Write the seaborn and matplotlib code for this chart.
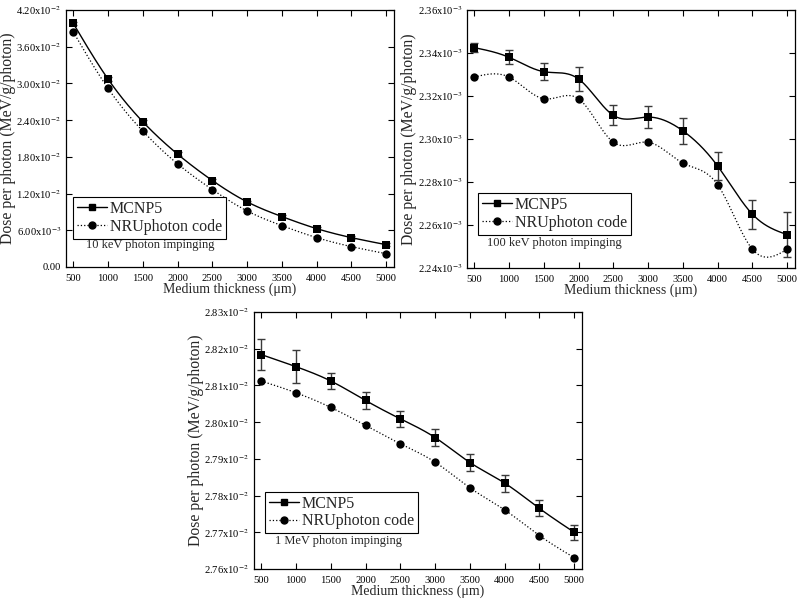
import numpy as np
import pandas as pd
import seaborn as sns
import matplotlib.pyplot as plt
from matplotlib.lines import Line2D
from matplotlib.ticker import FuncFormatter, MultipleLocator

# medium thickness (um)
thickness = [500, 1000, 1500, 2000, 2500, 3000, 3500, 4000, 4500, 5000]

# 10 keV
mcnp_10kev = [0.0398, 0.0307, 0.02373, 0.01844, 0.01413, 0.01064, 0.00824, 0.00627, 0.0048, 0.00365]
mcnp_10kev_err = [0.0003, 0.0003, 0.0003, 0.0003, 0.0002, 0.0002, 0.0002, 0.0002, 0.0002, 0.0002]
nru_10kev = [0.0384, 0.02918, 0.0222, 0.01685, 0.01265, 0.00916, 0.00676, 0.0048, 0.00333, 0.00218]

# 100 keV
mcnp_100kev = [2.3425e-3, 2.3380e-3, 2.3313e-3, 2.3279e-3, 2.3110e-3, 2.3102e-3, 2.3038e-3,
               2.2874e-3, 2.2650e-3, 2.2555e-3]
mcnp_100kev_err = [0.0021e-3, 0.0033e-3, 0.0039e-3, 0.0055e-3, 0.0046e-3, 0.0053e-3, 0.0060e-3,
                   0.0065e-3, 0.0068e-3, 0.0105e-3]
nru_100kev = [2.3288e-3, 2.3288e-3, 2.3187e-3, 2.3187e-3, 2.2985e-3, 2.2985e-3, 2.2888e-3,
              2.2787e-3, 2.2487e-3, 2.2487e-3]

# 1 MeV
mcnp_1mev = [2.8184e-2, 2.8151e-2, 2.8112e-2, 2.8059e-2, 2.8009e-2, 2.7958e-2, 2.7890e-2,
             2.7834e-2, 2.7765e-2, 2.7700e-2]
mcnp_1mev_err = [0.0043e-2, 0.0045e-2, 0.0022e-2, 0.0022e-2, 0.0022e-2, 0.0023e-2, 0.0023e-2,
                 0.0023e-2, 0.0022e-2, 0.0021e-2]
nru_1mev = [2.8112e-2, 2.8080e-2, 2.8040e-2, 2.7991e-2, 2.7941e-2, 2.7891e-2, 2.7821e-2,
            2.7761e-2, 2.7691e-2, 2.7631e-2]

sns.set_theme(style="ticks")
plt.rcParams['font.family'] = ['Liberation Serif', 'DejaVu Serif']
plt.rcParams['mathtext.fontset'] = 'stix'
plt.rcParams['xtick.direction'] = 'in'
plt.rcParams['ytick.direction'] = 'in'


def natural_spline(x, y, num=300):
    """Smooth connecting line through the data points (natural cubic spline)."""
    x = np.asarray(x, float)
    y = np.asarray(y, float)
    n = len(x)
    h = np.diff(x)
    A = np.zeros((n, n))
    b = np.zeros(n)
    A[0, 0] = A[-1, -1] = 1
    for i in range(1, n - 1):
        A[i, i - 1] = h[i - 1]
        A[i, i] = 2 * (h[i - 1] + h[i])
        A[i, i + 1] = h[i]
        b[i] = 6 * ((y[i + 1] - y[i]) / h[i] - (y[i] - y[i - 1]) / h[i - 1])
    M = np.linalg.solve(A, b)
    xs = np.linspace(x[0], x[-1], num)
    idx = np.clip(np.searchsorted(x, xs) - 1, 0, n - 2)
    x0, x1 = x[idx], x[idx + 1]
    hh = x1 - x0
    t0 = x1 - xs
    t1 = xs - x0
    ys = ((M[idx] * t0 ** 3 + M[idx + 1] * t1 ** 3) / (6 * hh)
          + (y[idx] / hh - M[idx] * hh / 6) * t0
          + (y[idx + 1] / hh - M[idx + 1] * hh / 6) * t1)
    return xs, ys


def sci_label(v, pos):
    if abs(v) < 1e-12:
        return '0.00'
    e = int(np.floor(np.log10(abs(v)) + 1e-9))
    m = v / 10 ** e
    return f'{m:.2f}x10$^{{{e}}}$'


def draw_panel(ax, mcnp, err, nru, ylim, ystep, note, leg_anchor, note_xy):
    xs, ys = natural_spline(thickness, mcnp)
    sns.lineplot(x=xs, y=ys, ax=ax, color='black', lw=1.0, estimator=None, sort=False)
    xs, ys = natural_spline(thickness, nru)
    sns.lineplot(x=xs, y=ys, ax=ax, color='black', lw=0.9, ls=':', estimator=None, sort=False)

    ax.errorbar(thickness, mcnp, yerr=err, fmt='none', ecolor='#3a3a3a', elinewidth=1.0,
                capsize=3, capthick=1.0, zorder=3)
    df = pd.DataFrame({'x': thickness, 'mcnp': mcnp, 'nru': nru})
    sns.scatterplot(data=df, x='x', y='mcnp', ax=ax, marker='s', s=36, color='black',
                    edgecolor='black', linewidth=0, zorder=4)
    sns.scatterplot(data=df, x='x', y='nru', ax=ax, marker='o', s=36, color='black',
                    edgecolor='black', linewidth=0, zorder=4)

    ax.set_xlim(395, 5112)
    ax.set_ylim(*ylim)
    ax.set_xticks(thickness)
    ax.yaxis.set_major_locator(MultipleLocator(ystep))
    ax.yaxis.set_major_formatter(FuncFormatter(sci_label))
    ax.tick_params(axis='both', which='major', labelsize=7.6, length=4, width=0.8,
                   top=True, right=True, colors='black')
    ax.tick_params(axis='x', pad=5)
    ax.tick_params(axis='y', pad=3.5)
    for s in ax.spines.values():
        s.set_color('black')
        s.set_linewidth(0.9)

    ax.set_xlabel('Medium thickness (μm)', fontsize=10, labelpad=0)
    ax.set_ylabel('Dose per photon (MeV/g/photon)', fontsize=11.3)
    ax.yaxis.set_label_coords(-0.152, 0.5)

    handles = [Line2D([], [], color='black', lw=1.0, ls='-', marker='s', ms=5),
               Line2D([], [], color='black', lw=0.9, ls=':', marker='o', ms=5)]
    leg = ax.legend(handles, ['MCNP5', 'NRUphoton code'], loc='upper left',
                    bbox_to_anchor=leg_anchor, fontsize=11.5, frameon=True, fancybox=False,
                    framealpha=1, edgecolor='black', handlelength=1.9, handletextpad=0.15,
                    borderpad=0.25, labelspacing=0.1, borderaxespad=0)
    leg.get_frame().set_linewidth(0.8)
    ax.text(note_xy[0], note_xy[1], note, transform=ax.transAxes, ha='center', va='center',
            fontsize=9)


fig = plt.figure(figsize=(8, 6.02), dpi=100)
W, H = 800, 602
ax1 = fig.add_axes([66 / W, 1 - 267 / H, 328 / W, 257 / H])
ax2 = fig.add_axes([467 / W, 1 - 268 / H, 328 / W, 258 / H])
ax3 = fig.add_axes([254 / W, 1 - 569 / H, 328 / W, 257 / H])

draw_panel(ax1, mcnp_10kev, mcnp_10kev_err, nru_10kev, (0, 0.042), 0.006,
           '10 keV photon impinging', (0.021, 0.272), (0.256, 0.086))
draw_panel(ax2, mcnp_100kev, mcnp_100kev_err, nru_100kev, (2.24e-3, 2.36e-3), 0.02e-3,
           '100 keV photon impinging', (0.034, 0.291), (0.267, 0.097))
draw_panel(ax3, mcnp_1mev, mcnp_1mev_err, nru_1mev, (2.76e-2, 2.83e-2), 0.01e-2,
           '1 MeV photon impinging', (0.034, 0.300), (0.259, 0.109))

fig.savefig('out.png', dpi=100, facecolor='white')
